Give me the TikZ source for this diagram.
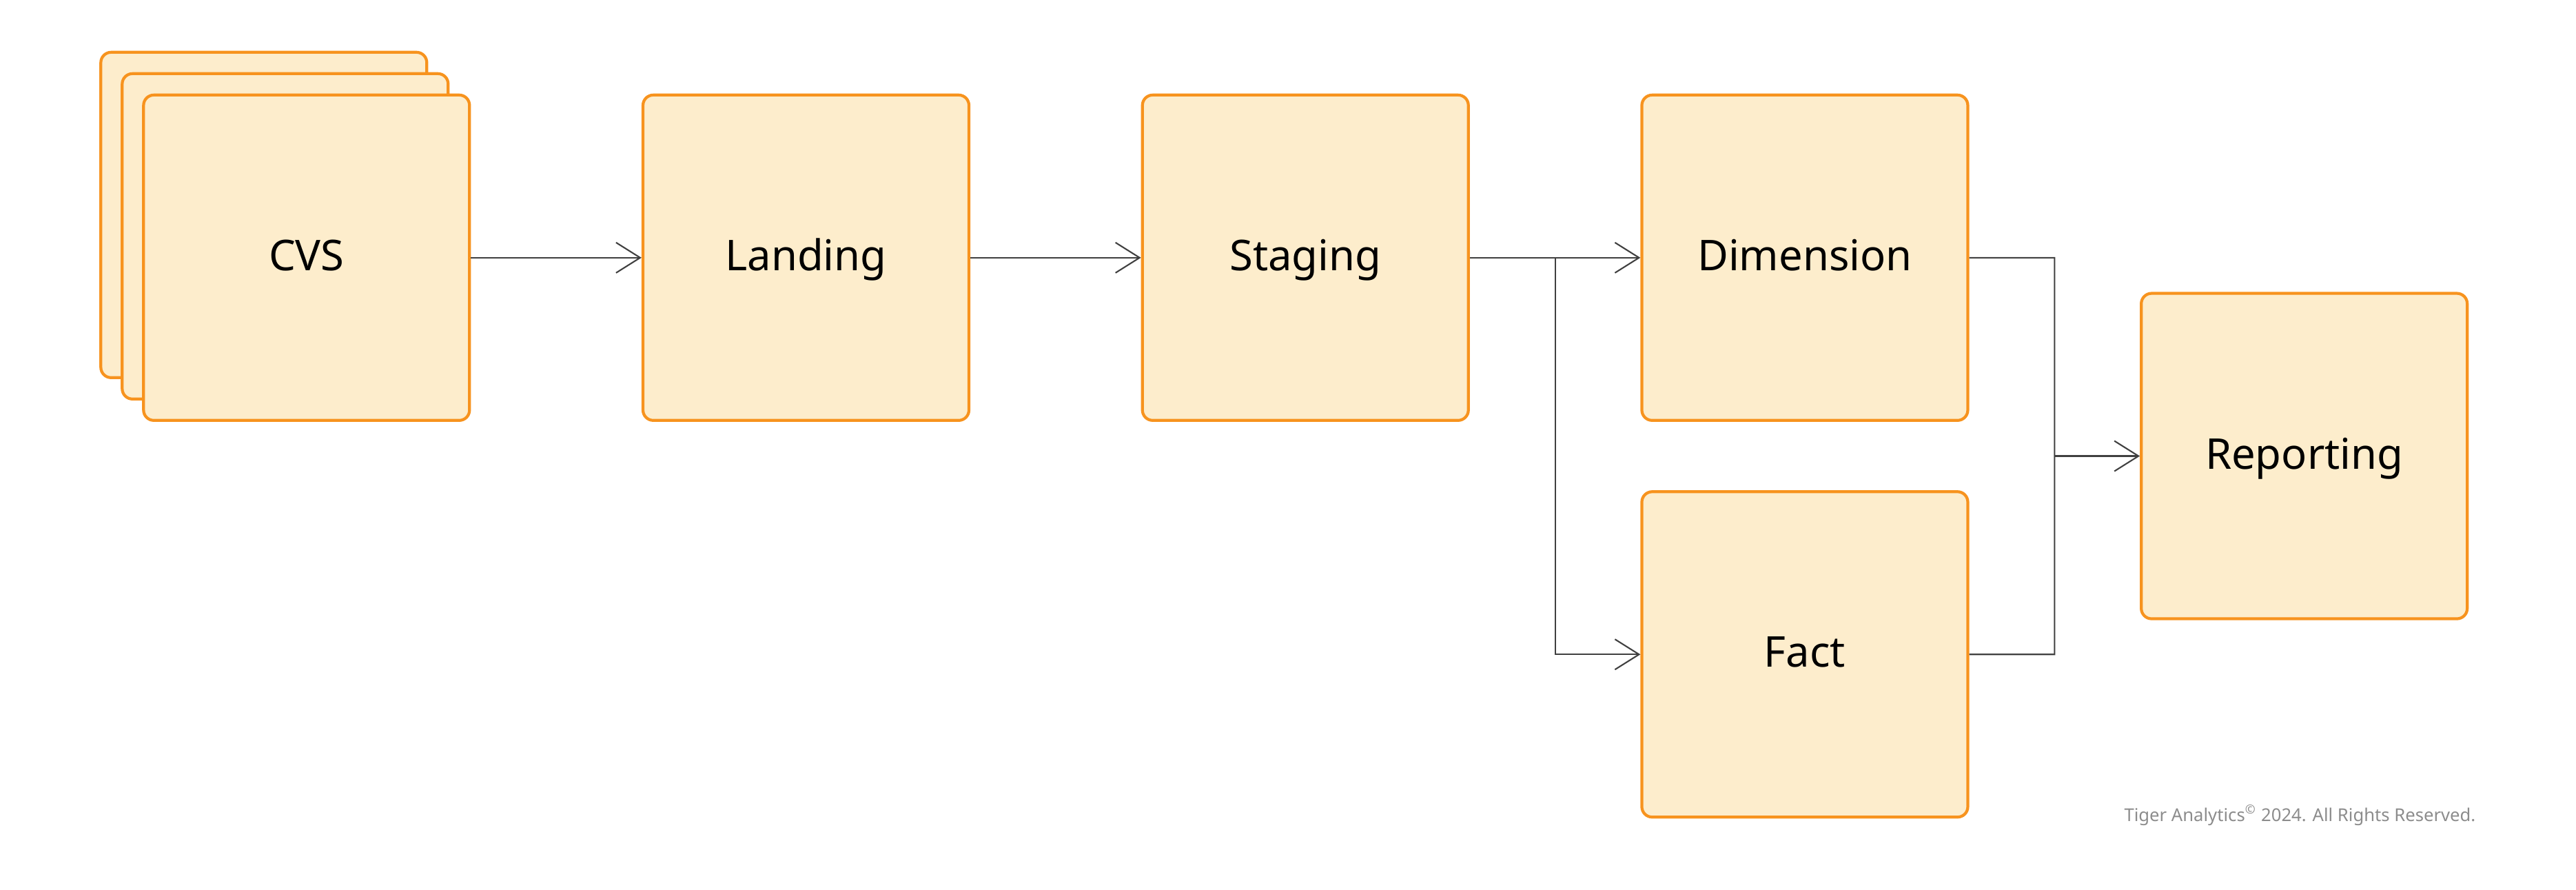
\documentclass[tikz,border=0pt]{standalone}
\usepackage{fontspec}
\setmainfont{Noto Sans}
\usepackage{tikz}
\usetikzlibrary{positioning,matrix,calc,arrows.meta,backgrounds}
\definecolor{boxline}{HTML}{F7931E}
\definecolor{boxfill}{HTML}{FDEDCC}
\definecolor{wire}{HTML}{404040}
\definecolor{note}{HTML}{8C8C8C}

\begin{document}
\begin{tikzpicture}[
	stage/.style={draw=boxline,fill=boxfill,line width=1.2pt,rounded corners=1.5mm,
		minimum width=4.73cm,minimum height=4.72cm,inner sep=0pt,
		text height=0.51cm,text depth=0.14cm,font=\fontsize{17.5}{21}\selectfont},
	wireline/.style={draw=wire,line width=0.6pt},
	feed/.style={wireline,-{Straight Barb[length=3.5mm,width=4.4mm]}}]
\useasboundingbox (0,0) rectangle (37.38,-12.90);
\matrix (flow) [ampersand replacement=\&,column sep=2.475cm,inner sep=0pt,anchor=north west] at (2.055,-1.35) {
	\node [stage] (cvs) {CVS}; \& \node [stage] (landing) {Landing}; \& \node [stage] (staging) {Staging}; \& \node [stage] (dim) {Dimension}; \& \\[-1.885cm]
	\& \& \& \& \node [stage] (rep) {Reporting}; \\[-1.885cm]
	\& \& \& \node [stage] (fact) {Fact}; \& \\
};
\begin{scope}[on background layer]
\node [stage] (cvsback) at ([shift={(-0.62,0.62)}]cvs.center) {};
\node [stage] (cvsmid) at ([shift={(-0.31,0.31)}]cvs.center) {};
\end{scope}
\coordinate (split) at ($(staging.east)!.5!(dim.west)$);
\coordinate (join) at ($(dim.east)!.5!(dim.east -| rep.west)$);
\draw [feed] (cvs) -- (landing);
\draw [feed] (landing) -- (staging);
\draw [feed] (staging) -- (dim);
\draw [feed] (split) |- (fact);
\draw [wireline] (dim.east) -- (join) |- (fact.east);
\draw [feed] (join |- rep) -- (rep);
\node [anchor=base east,text=note,font=\fontsize{7.3}{9}\selectfont,inner sep=0pt] (rights) at (35.93,-11.91) {Tiger Analytics\textsuperscript{©} 2024. All Rights Reserved.};
\end{tikzpicture}
\end{document}
